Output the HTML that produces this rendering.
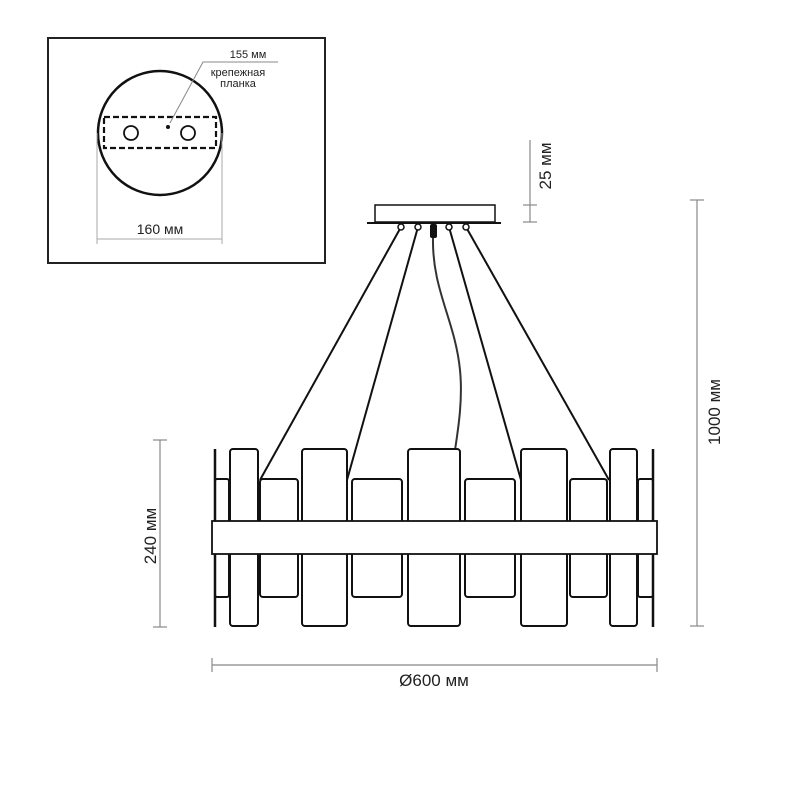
<!DOCTYPE html>
<html><head><meta charset="utf-8"><style>
body{margin:0;background:#fff}
svg{display:block}
text{font-family:"Liberation Sans","DejaVu Sans",sans-serif;fill:#222}
</style></head><body>
<svg width="800" height="800" viewBox="0 0 800 800" xmlns="http://www.w3.org/2000/svg">
<!-- inset -->
<rect x="48" y="38" width="277" height="225" fill="none" stroke="#222" stroke-width="2"/>
<circle cx="160" cy="133" r="62" fill="none" stroke="#111" stroke-width="2.5"/>
<rect x="104" y="117" width="112" height="31" fill="none" stroke="#111" stroke-width="2.2" stroke-dasharray="6,3"/>
<circle cx="131" cy="133" r="7" fill="none" stroke="#111" stroke-width="1.8"/>
<circle cx="188" cy="133" r="7" fill="none" stroke="#111" stroke-width="1.8"/>
<circle cx="168" cy="127" r="2" fill="#111"/>
<polyline points="170,123 203,62 278,62" fill="none" stroke="#888" stroke-width="1"/>
<text x="248" y="58" font-size="11" text-anchor="middle">155 мм</text>
<text x="238" y="76" font-size="11" text-anchor="middle">крепежная</text>
<text x="238" y="87" font-size="11" text-anchor="middle">планка</text>
<line x1="97" y1="133" x2="97" y2="244" stroke="#aaa" stroke-width="1"/>
<line x1="222" y1="133" x2="222" y2="244" stroke="#aaa" stroke-width="1"/>
<line x1="97" y1="239" x2="222" y2="239" stroke="#aaa" stroke-width="1"/>
<text x="160" y="234" font-size="14" text-anchor="middle">160 мм</text>

<!-- canopy -->
<rect x="375" y="205" width="120" height="17" fill="#fff" stroke="#111" stroke-width="1.5"/>
<line x1="367" y1="223" x2="501" y2="223" stroke="#111" stroke-width="2"/>
<g stroke="#111" stroke-width="2" fill="none">
<line x1="401" y1="227" x2="260" y2="480"/>
<line x1="418" y1="227" x2="347" y2="480"/>
<line x1="449" y1="227" x2="521" y2="480"/>
<line x1="466" y1="227" x2="609" y2="480"/>
</g>
<g fill="#fff" stroke="#111" stroke-width="1.5">
<circle cx="401" cy="227" r="3"/><circle cx="418" cy="227" r="3"/><circle cx="449" cy="227" r="3"/><circle cx="466" cy="227" r="3"/>
</g>
<rect x="430" y="224" width="7" height="14" rx="2" fill="#111"/>
<path d="M433,238 C432,290 455,320 460,370 C463,400 458,430 455,450" fill="none" stroke="#333" stroke-width="2"/>

<!-- panels -->
<g fill="#fff" stroke="#111" stroke-width="2">
<rect x="215" y="479" width="14" height="118" rx="2"/>
<rect x="638" y="479" width="15" height="118" rx="2"/>
<rect x="260" y="479" width="38" height="118" rx="3"/>
<rect x="352" y="479" width="50" height="118" rx="3"/>
<rect x="465" y="479" width="50" height="118" rx="3"/>
<rect x="570" y="479" width="37" height="118" rx="3"/>
<rect x="230" y="449" width="28" height="177" rx="3"/>
<rect x="302" y="449" width="45" height="177" rx="3"/>
<rect x="408" y="449" width="52" height="177" rx="3"/>
<rect x="521" y="449" width="46" height="177" rx="3"/>
<rect x="610" y="449" width="27" height="177" rx="3"/>
</g>
<line x1="215" y1="449" x2="215" y2="627" stroke="#111" stroke-width="2.5"/>
<line x1="653" y1="449" x2="653" y2="627" stroke="#111" stroke-width="2.5"/>
<rect x="212" y="521" width="445" height="33" fill="#fff" stroke="#111" stroke-width="1.8"/>

<!-- dimensions -->
<g stroke="#888" stroke-width="1.2">
<line x1="530" y1="140" x2="530" y2="222"/>
<line x1="523" y1="205" x2="537" y2="205"/>
<line x1="523" y1="222" x2="537" y2="222"/>
<line x1="697" y1="200" x2="697" y2="626"/>
<line x1="690" y1="200" x2="704" y2="200"/>
<line x1="690" y1="626" x2="704" y2="626"/>
<line x1="160" y1="440" x2="160" y2="627"/>
<line x1="153" y1="440" x2="167" y2="440"/>
<line x1="153" y1="627" x2="167" y2="627"/>
<line x1="212" y1="665" x2="657" y2="665"/>
<line x1="212" y1="658" x2="212" y2="672"/>
<line x1="657" y1="658" x2="657" y2="672"/>
</g>
<text transform="translate(551,166) rotate(-90)" font-size="17" text-anchor="middle">25 мм</text>
<text transform="translate(720,412) rotate(-90)" font-size="17" text-anchor="middle">1000 мм</text>
<text transform="translate(156,536) rotate(-90)" font-size="17" text-anchor="middle">240 мм</text>
<text x="434" y="686" font-size="17" text-anchor="middle">Ø600 мм</text>
</svg>
</body></html>
